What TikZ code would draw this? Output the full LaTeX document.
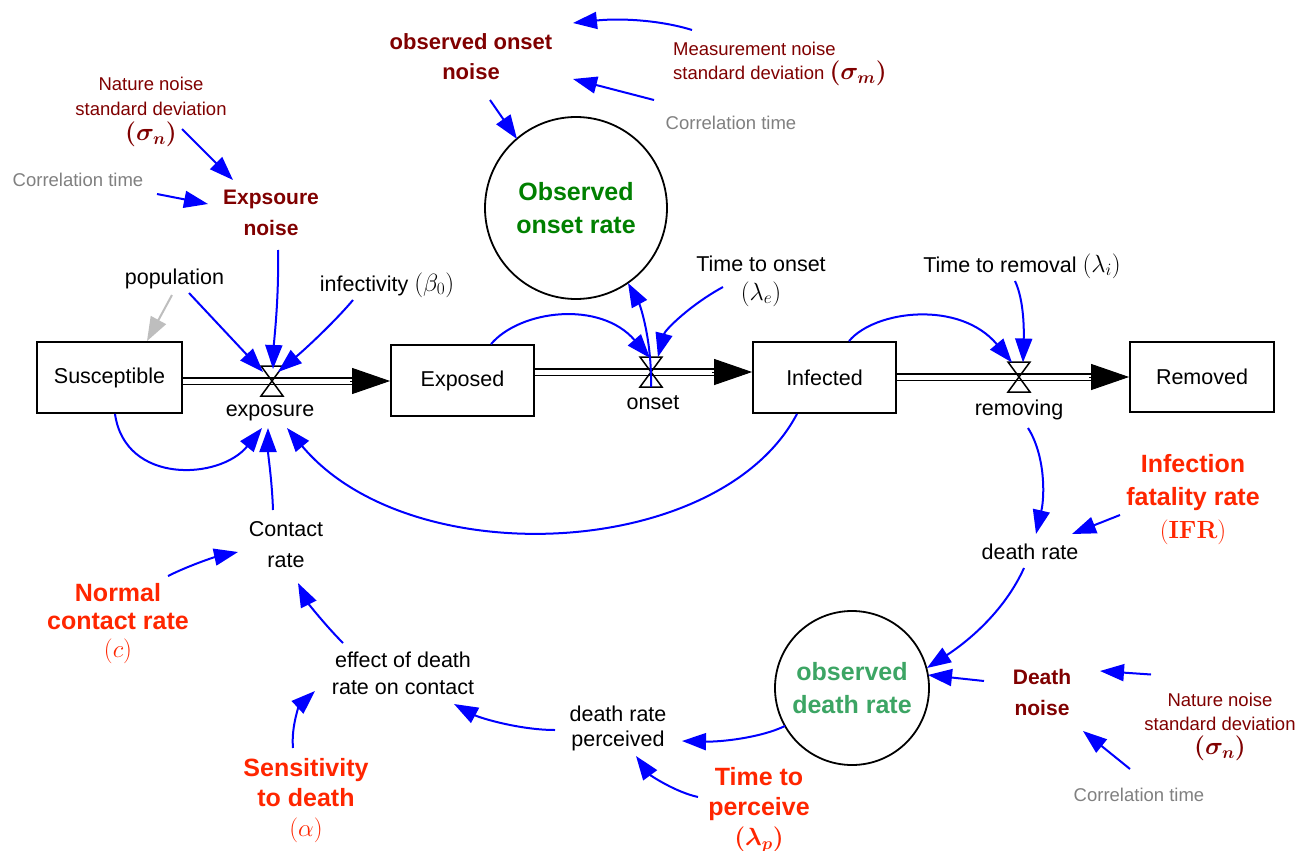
\documentclass[tikz,border=0pt]{standalone}
\usepackage[no-math]{fontspec}
\setmainfont{Liberation Sans}
\usepackage{bm}
\usetikzlibrary{arrows.meta,calc}
\definecolor{dred}{RGB}{128,0,0}
\definecolor{bred}{RGB}{255,38,0}
\definecolor{dgreen}{RGB}{0,128,0}
\definecolor{mgreen}{RGB}{60,165,100}
\definecolor{tgray}{RGB}{128,128,128}
\definecolor{lgray}{RGB}{190,190,190}
\definecolor{infoblue}{RGB}{0,0,255}
\newcommand\fsz[2]{\fontsize{#1}{#2}\selectfont}
\newcommand\mathsz[1]{{\fontsize{23}{25}\selectfont #1}}
\newcommand\valvedraw[1]{\draw[valveline] ($(#1)+(-11,-15)$) -- ($(#1)+(11,-15)$) -- ($(#1)+(-11,15)$) -- ($(#1)+(11,15)$) -- cycle;}
\begin{document}
\begin{tikzpicture}[x=1pt,y=-1pt,
  lbl/.style={align=center, inner sep=0pt, font=\fsz{21.5}{26}},
  stock/.style={draw, line width=1.8pt, minimum height=71pt, inner sep=0pt, font=\fsz{21.5}{26}},
  pipe/.style={draw=black, line width=1.6pt, double=white, double distance=5pt},
  pipehead/.style={line width=1pt, -{Triangle[length=38pt,width=26pt]}},
  valveline/.style={line width=1.5pt},
  info/.style={draw=infoblue, line width=2pt, -{Triangle[length=24pt,width=17pt]}},
  grayinfo/.style={draw=lgray, line width=2pt, -{Triangle[length=24pt,width=17pt]}},
  circ/.style={circle, draw, line width=1.8pt, inner sep=0pt, align=center, font=\bfseries\fsz{25}{33}}
]
\fill[white] (0,0) rectangle (1299,851);
\useasboundingbox (0,0) rectangle (1299,851);

% stocks
\node[stock, minimum width=145pt] (S) at (109.5,377.5) {Susceptible};
\node[stock, minimum width=143pt] (E) at (462.5,380.5) {Exposed};
\node[stock, minimum width=143pt] (I) at (824.5,377.5) {Infected};
\node[stock, minimum width=144pt, minimum height=70pt] (R) at (1202,377) {Removed};

% valves
\coordinate (vE) at (272,381);
\coordinate (vO) at (651,372);
\coordinate (vR) at (1019,377);

% circles
\node[circ, minimum size=182pt, text=dgreen] (OO) at (576,208) {Observed\\onset rate};
\node[circ, minimum size=154pt, text=mgreen] (OD) at (852,688) {observed\\death rate};

% labels
\node[lbl, text=dred, font=\fsz{18.5}{25}] (nsn1) at (151,112) {Nature noise\\standard deviation\\\mathsz{$\bm{(\sigma_n)}$}};
\node[lbl, text=tgray, font=\fsz{18.5}{22}] (ct2) at (78,180) {Correlation time};
\node[lbl, text=dred, font=\bfseries\fsz{21}{31}] (exn) at (271,213) {Expsoure\\noise};
\node[lbl, text=dred, font=\bfseries\fsz{22}{30}] (oon) at (471,57) {observed onset\\noise};
\node[lbl, text=dred, font=\fsz{18.5}{24}, align=left, anchor=west] (msd) at (673,64) {Measurement noise\\standard deviation \mathsz{$\bm{(\sigma_m)}$}};
\node[lbl, text=tgray, font=\fsz{18.5}{22}] (ct1) at (731,123) {Correlation time};
\node[lbl] (pop) at (174.5,279) {population};
\node[lbl] (inf) at (387,285) {infectivity \mathsz{$(\beta_0)$}};
\node[lbl, font=\fsz{21.5}{29}] (tto) at (761,281) {Time to onset\\\mathsz{$(\lambda_e)$}};
\node[lbl] (ttr) at (1022,266) {Time to removal \mathsz{$(\lambda_i)$}};
\node[lbl] (exl) at (270,413) {exposure};
\node[lbl] (onl) at (653,403) {onset};
\node[lbl] (rml) at (1019,410) {removing};
\node[lbl, text=bred, font=\bfseries\fsz{25}{33}] (ifr) at (1193,500) {Infection\\fatality rate\\\mathsz{$\mathbf{(IFR)}$}};
\node[lbl] (dr) at (1030,552) {death rate};
\node[lbl, text=dred, font=\bfseries\fsz{21}{31}] (dn) at (1042,692) {Death\\noise};
\node[lbl, text=dred, font=\fsz{18.5}{24}] (nsn2) at (1220,727) {Nature noise\\standard deviation\\\mathsz{$\bm{(\sigma_n)}$}};
\node[lbl, text=tgray, font=\fsz{18.5}{22}] (ct3) at (1139,795) {Correlation time};
\node[lbl, text=bred, font=\bfseries\fsz{25}{30}] (ttp) at (759,810) {Time to\\perceive\\\mathsz{$\bm{(\lambda_p)}$}};
\node[lbl, font=\fsz{21.5}{25}] (drp) at (618,728) {death rate\\perceived};
\node[lbl, font=\fsz{21.5}{27}] (eff) at (403,673) {effect of death\\rate on contact};
\node[lbl, font=\fsz{21.5}{31}] (cr) at (286,545) {Contact\\rate};
\node[lbl, text=bred, font=\bfseries\fsz{25}{28}] (ncr) at (118,624) {Normal\\contact rate\\\mathsz{$(c)$}};
\node[lbl, text=bred, font=\bfseries\fsz{25}{30}] (sen) at (306,801) {Sensitivity\\to death\\\mathsz{$(\alpha)$}};

% flows (pipes)
\draw[pipe] (S.east |- vE) -- (vE) -- ($(E.west |- vE)+(-36,0)$);
\draw[pipehead] ($(E.west |- vE)+(-40,0)$) -- (E.west |- vE);
\draw[pipe] (E.east |- vO) -- (vO) -- ($(I.west |- vO)+(-36,0)$);
\draw[pipehead] ($(I.west |- vO)+(-40,0)$) -- (I.west |- vO);
\draw[pipe] (I.east |- vR) -- (vR) -- ($(R.west |- vR)+(-36,0)$);
\draw[pipehead] ($(R.west |- vR)+(-40,0)$) -- (R.west |- vR);
\valvedraw{vE}
\valvedraw{vO}
\valvedraw{vR}

% information links
\draw[info] ($(nsn1)+(31,17)$) -- ($(exn)+(-38,-33)$);
\draw[info] ($(ct2)+(79,14)$) -- ($(exn)+(-63,-9)$);
\draw[info] ($(exn)+(7,37)$) .. controls (279,300) and (274,340) .. ($(vE)+(1,-12)$);
\draw[info] ($(pop)+(14.5,14)$) -- ($(vE)+(-9,-9)$);
\draw[info] ($(inf)+(-34,15)$) .. controls (338,318) and (310,345) .. ($(vE)+(6,-9)$);
\draw[grayinfo] ($(pop)+(-2.5,16)$) -- ($(S.north)+(37.5,0)$);
\draw[info] ($(S.south)+(5.5,0)$) .. controls (125,485) and (220,480) .. ($(exl)+(-8,15)$);
\draw[info] ($(cr)+(-13,-35)$) .. controls (272,480) and (268,455) .. ($(exl)+(-2,15)$);
\draw[info] ($(I.south)+(-27.5,0)$) .. controls (720,560) and (410,575) .. ($(exl)+(17,15)$);
\draw[info] ($(E.north)+(28.5,0)$) .. controls (520,310) and (600,300) .. ($(vO)+(-1,-14)$);
\draw[info] ($(vO)+(0,15)$) .. controls (652,340) and (640,305) .. ($(OO)+(52,75)$);
\draw[info] ($(tto)+(-38,6)$) .. controls (690,305) and (665,330) .. ($(vO)+(7,-15)$);
\draw[info] ($(oon)+(19,43)$) -- ($(OO)+(-59,-69)$);
\draw[info] ($(msd.west)+(19,-34)$) .. controls (660,20) and (620,18) .. ($(oon)+(102,-34)$);
\draw[info] ($(ct1)+(-77,-23)$) -- ($(oon)+(102,22)$);
\draw[info] ($(I.north)+(24.5,0)$) .. controls (875,310) and (960,300) .. ($(vR)+(-7,-14.5)$);
\draw[info] ($(ttr)+(-7,15)$) .. controls (1024,300) and (1024,330) .. ($(vR)+(4,-14.5)$);
\draw[info] ($(rml)+(9,18)$) .. controls (1045,455) and (1045,495) .. ($(dr)+(6,-18)$);
\draw[info] ($(ifr)+(-73,15)$) -- ($(dr)+(42,-18)$);
\draw[info] ($(dr)+(-6,16)$) .. controls (1005,610) and (970,640) .. ($(OD)+(75,-20)$);
\draw[info] ($(dn)+(-58,-11)$) -- ($(OD)+(76,-13)$);
\draw[info] ($(nsn2)+(-69,-52.5)$) -- ($(dn)+(58,-21)$);
\draw[info] ($(ct3)+(-9,-26)$) -- ($(dn)+(41,39)$);
\draw[info] ($(OD)+(-67,38)$) .. controls (760,738) and (720,742) .. ($(drp)+(64,13)$);
\draw[info] ($(ttp)+(-61,-13)$) .. controls (675,792) and (650,775) .. ($(drp)+(18,28)$);
\draw[info] ($(drp)+(-63,2)$) .. controls (520,730) and (480,718) .. ($(eff)+(51,31)$);
\draw[info] ($(eff)+(-60,-30)$) .. controls (325,625) and (308,603) .. ($(cr)+(12,38)$);
\draw[info] ($(sen)+(-13,-53)$) .. controls (291,725) and (300,705) .. ($(eff)+(-88,18)$);
\draw[info] ($(ncr)+(50,-48)$) .. controls (190,565) and (215,557) .. ($(cr)+(-48,7)$);
\end{tikzpicture}
\end{document}
